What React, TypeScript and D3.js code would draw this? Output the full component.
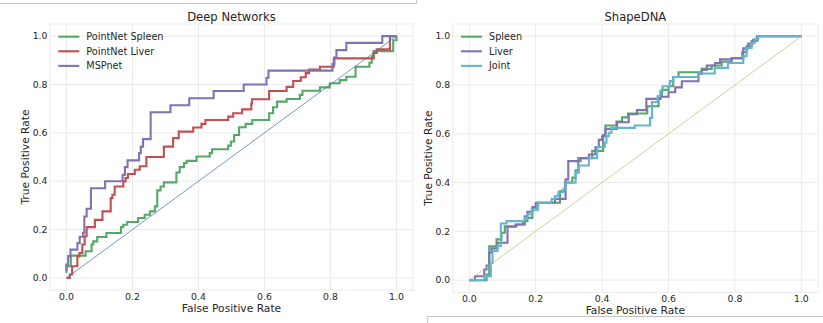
import React from "react";
import * as d3 from "d3";

// ---------- data ----------
const tickValues = [0, 0.2, 0.4, 0.6, 0.8, 1.0];
const tickLabels = ["0.0", "0.2", "0.4", "0.6", "0.8", "1.0"];

const leftTitle = "Deep Networks";
const rightTitle = "ShapeDNA";
const xLabel = "False Positive Rate";
const yLabel = "True Positive Rate";

const leftNames = ["PointNet Spleen", "PointNet Liver", "MSPnet"];
const rightNames = ["Spleen", "Liver", "Joint"];

// [fpr, tpr] corner points (value of tpr reached at that fpr)
const pointnetSpleen: [number, number][] = [
  [0, 0.02], [0, 0.048], [0.013, 0.092], [0.058, 0.11], [0.076, 0.138], [0.081, 0.151],
  [0.093, 0.169], [0.121, 0.186], [0.165, 0.21], [0.172, 0.22], [0.184, 0.231], [0.217, 0.248],
  [0.237, 0.261], [0.253, 0.275], [0.268, 0.296], [0.275, 0.362], [0.285, 0.378], [0.295, 0.395],
  [0.333, 0.436], [0.343, 0.458], [0.356, 0.475], [0.364, 0.484], [0.394, 0.502], [0.434, 0.516],
  [0.441, 0.532], [0.49, 0.547], [0.498, 0.564], [0.508, 0.591], [0.523, 0.623], [0.543, 0.637],
  [0.563, 0.653], [0.614, 0.681], [0.626, 0.706], [0.638, 0.729], [0.667, 0.74], [0.707, 0.757],
  [0.715, 0.774], [0.768, 0.788], [0.798, 0.805], [0.828, 0.818], [0.848, 0.832], [0.876, 0.873],
  [0.918, 0.89], [0.925, 0.915], [0.93, 0.938], [0.99, 0.983], [1.0, 1.0],
];

const pointnetLiver: [number, number][] = [
  [0, 0], [0.01, 0.014], [0.017, 0.048], [0.033, 0.089], [0.039, 0.103], [0.048, 0.138],
  [0.055, 0.172], [0.061, 0.21], [0.086, 0.24], [0.109, 0.275], [0.134, 0.33], [0.139, 0.344],
  [0.146, 0.378], [0.172, 0.399], [0.179, 0.413], [0.186, 0.43], [0.207, 0.447], [0.222, 0.462],
  [0.242, 0.5], [0.295, 0.543], [0.323, 0.578], [0.34, 0.605], [0.384, 0.622], [0.409, 0.637],
  [0.421, 0.653], [0.49, 0.667], [0.505, 0.681], [0.532, 0.697], [0.56, 0.72], [0.562, 0.739],
  [0.614, 0.773], [0.667, 0.79], [0.687, 0.814], [0.71, 0.83], [0.725, 0.847], [0.735, 0.862],
  [0.768, 0.873], [0.81, 0.908], [0.931, 0.93], [0.94, 0.945], [0.98, 1.0], [1.0, 1.0],
];

const mspnet: [number, number][] = [
  [0, 0.03], [0, 0.055], [0.005, 0.09], [0.012, 0.117], [0.033, 0.144], [0.04, 0.17],
  [0.05, 0.186], [0.054, 0.254], [0.061, 0.286], [0.074, 0.371], [0.117, 0.4], [0.17, 0.426],
  [0.177, 0.458], [0.185, 0.486], [0.22, 0.516], [0.225, 0.543], [0.232, 0.574], [0.255, 0.685],
  [0.315, 0.714], [0.372, 0.743], [0.446, 0.773], [0.537, 0.8], [0.606, 0.828], [0.612, 0.857],
  [0.806, 0.884], [0.812, 0.912], [0.818, 0.942], [0.848, 0.972], [0.957, 1.0], [1.0, 1.0],
];

const shapeSpleen: [number, number][] = [
  [0, 0], [0.052, 0.023], [0.06, 0.139], [0.082, 0.167], [0.097, 0.194], [0.107, 0.221],
  [0.142, 0.228], [0.162, 0.242], [0.175, 0.255], [0.19, 0.29], [0.207, 0.317], [0.273, 0.365],
  [0.288, 0.4], [0.31, 0.42], [0.32, 0.45], [0.328, 0.5], [0.37, 0.53], [0.403, 0.595],
  [0.41, 0.634], [0.443, 0.65], [0.46, 0.667], [0.478, 0.683], [0.536, 0.713], [0.57, 0.754],
  [0.58, 0.78], [0.6, 0.795], [0.614, 0.833], [0.63, 0.852], [0.7, 0.866], [0.73, 0.88],
  [0.76, 0.895], [0.79, 0.91], [0.822, 0.935], [0.835, 0.96], [0.85, 0.98], [0.867, 1.0], [1, 1],
];

const shapeLiver: [number, number][] = [
  [0, 0], [0.017, 0.016], [0.045, 0.044], [0.052, 0.06], [0.06, 0.112], [0.067, 0.13],
  [0.085, 0.153], [0.115, 0.219], [0.139, 0.228], [0.167, 0.262], [0.175, 0.28], [0.19, 0.3],
  [0.2, 0.317], [0.258, 0.333], [0.29, 0.413], [0.298, 0.488], [0.335, 0.5], [0.36, 0.515],
  [0.38, 0.545], [0.39, 0.575], [0.4, 0.59], [0.41, 0.62], [0.445, 0.647], [0.48, 0.68],
  [0.505, 0.697], [0.533, 0.743], [0.576, 0.752], [0.6, 0.77], [0.62, 0.79], [0.64, 0.815],
  [0.69, 0.845], [0.7, 0.862], [0.715, 0.88], [0.74, 0.89], [0.755, 0.905], [0.79, 0.91],
  [0.825, 0.95], [0.84, 0.97], [0.855, 0.985], [0.867, 1.0], [1, 1],
];

const shapeJoint: [number, number][] = [
  [0, 0], [0.045, 0.016], [0.065, 0.07], [0.07, 0.12], [0.085, 0.14], [0.095, 0.232],
  [0.112, 0.242], [0.167, 0.255], [0.175, 0.27], [0.188, 0.29], [0.207, 0.317], [0.248, 0.333],
  [0.258, 0.345], [0.268, 0.36], [0.283, 0.372], [0.29, 0.399], [0.32, 0.44], [0.33, 0.47],
  [0.36, 0.5], [0.385, 0.546], [0.408, 0.563], [0.413, 0.59], [0.42, 0.604], [0.428, 0.624],
  [0.498, 0.634], [0.544, 0.665], [0.55, 0.73], [0.567, 0.754], [0.575, 0.775], [0.582, 0.795],
  [0.604, 0.816], [0.615, 0.833], [0.69, 0.847], [0.739, 0.87], [0.779, 0.89], [0.825, 0.918],
  [0.835, 0.952], [0.85, 0.973], [0.86, 0.989], [0.87, 1.0], [1, 1],
];

const diagonal: [number, number][] = [[0, 0], [1, 1]];

// ---------- styling ----------
const FONT = "DejaVu Sans";
const TEXT = "#262626";
const GRID = "#ebebeb";
const C_GREEN = "#55A868";
const C_RED = "#C44E52";
const C_PURPLE = "#8172B2";
const C_CYAN = "#64B5CD";
const C_BLUE = "#4C72B0";
const C_TAN = "#CCB974";

type Layout = { x0: number; x1: number; y0: number; y1: number; legendX: number };

function Panel({
  layout, title, names, series, colors, diagColor,
}: {
  layout: Layout; title: string; names: string[]; series: [number, number][][];
  colors: string[]; diagColor: string;
}) {
  const x = d3.scaleLinear().domain([-0.05, 1.05]).range([layout.x0, layout.x1]);
  const y = d3.scaleLinear().domain([-0.05, 1.05]).range([layout.y1, layout.y0]);
  const step = d3.line<[number, number]>().x((d) => x(d[0])).y((d) => y(d[1])).curve(d3.curveStepAfter);
  const straight = d3.line<[number, number]>().x((d) => x(d[0])).y((d) => y(d[1]));
  const cx = (layout.x0 + layout.x1) / 2;
  const cy = (layout.y0 + layout.y1) / 2;
  return (
    <g>
      <rect x={layout.x0} y={layout.y0} width={layout.x1 - layout.x0} height={layout.y1 - layout.y0}
        fill="#fff" stroke={GRID} strokeWidth={1} />
      {tickValues.map((t) => (
        <g key={"g" + t}>
          <line x1={x(t)} x2={x(t)} y1={layout.y0} y2={layout.y1} stroke={GRID} strokeWidth={1} />
          <line x1={layout.x0} x2={layout.x1} y1={y(t)} y2={y(t)} stroke={GRID} strokeWidth={1} />
        </g>
      ))}
      {tickValues.map((t, i) => (
        <text key={"xt" + t} x={x(t)} y={layout.y1 + 10} textAnchor="middle" fontSize={9.3}
          fontFamily={FONT} fill={TEXT}>{tickLabels[i]}</text>
      ))}
      {tickValues.map((t, i) => (
        <text key={"yt" + t} x={layout.x0 - 2.5} y={y(t) + 3.3} textAnchor="end" fontSize={9.3}
          fontFamily={FONT} fill={TEXT}>{tickLabels[i]}</text>
      ))}
      {series.map((s, i) => (
        <path key={"s" + i} d={step(s) || ""} fill="none" stroke={colors[i]} strokeWidth={2.1} />
      ))}
      <path d={straight(diagonal) || ""} fill="none" stroke={diagColor} strokeWidth={0.75} />
      <text x={cx} y={layout.y0 - 3} textAnchor="middle" fontSize={11.6} fontFamily={FONT} fill={TEXT}>{title}</text>
      <text x={cx} y={layout.y1 + 21.5} textAnchor="middle" fontSize={10.7} fontFamily={FONT} fill={TEXT}>{xLabel}</text>
      <text transform={`translate(${layout.x0 - 21},${cy}) rotate(-90)`} textAnchor="middle" fontSize={10.7}
        fontFamily={FONT} fill={TEXT}>{yLabel}</text>
      {names.map((n, i) => (
        <g key={"l" + n}>
          <line x1={layout.legendX} x2={layout.legendX + 21} y1={36.7 + i * 14.6} y2={36.7 + i * 14.6}
            stroke={colors[i]} strokeWidth={2.1} />
          <text x={layout.legendX + 28} y={36.7 + i * 14.6 + 3.5} fontSize={9.7} fontFamily={FONT} fill={TEXT}>{n}</text>
        </g>
      ))}
    </g>
  );
}

export default function App() {
  const left: Layout = { x0: 50, x1: 413, y0: 24, y1: 290, legendX: 58.3 };
  const right: Layout = { x0: 452.7, x1: 818, y0: 24, y1: 292.3, legendX: 461 };
  return (
    <svg width={823} height={323} style={{ position: "absolute", left: 0, top: 0, background: "#fff" }}>
      <rect x={0} y={0} width={823} height={323} fill="#fff" />
      <path d="M0,3.5 H416.5 V0" fill="none" stroke="#c4c4c4" strokeWidth={1} />
      <path d="M427.7,323 V316.5 H823" fill="none" stroke="#c4c4c4" strokeWidth={1} />
      <Panel layout={left} title={leftTitle} names={leftNames}
        series={[pointnetSpleen, pointnetLiver, mspnet]} colors={[C_GREEN, C_RED, C_PURPLE]} diagColor={C_BLUE} />
      <Panel layout={right} title={rightTitle} names={rightNames}
        series={[shapeSpleen, shapeLiver, shapeJoint]} colors={[C_GREEN, C_PURPLE, C_CYAN]} diagColor={C_TAN} />
    </svg>
  );
}
